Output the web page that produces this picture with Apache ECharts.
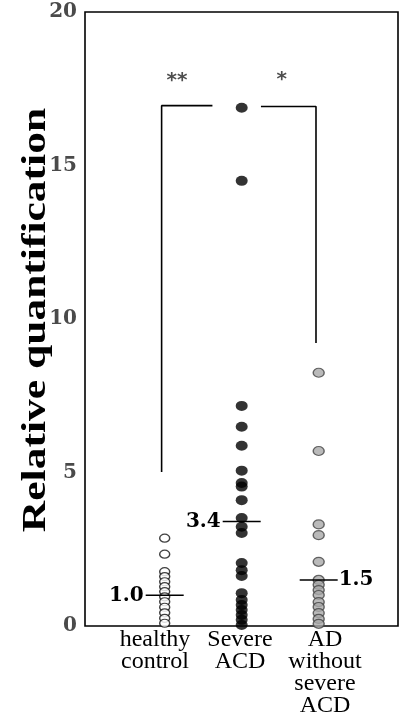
<!DOCTYPE html>
<html>
<head>
<meta charset="utf-8">
<script src="https://cdn.jsdelivr.net/npm/echarts@6/dist/echarts.min.js"></script>
<style>
html,body{margin:0;padding:0;background:#fff;}
#chart{width:400px;height:721px;}
</style>
</head>
<body>
<div id="chart"></div>
<script>
const categories = ['healthy\ncontrol', 'Severe\nACD', 'AD\nwithout\nsevere\nACD'];
const yTicks = [0, 5, 10, 15, 20];
const healthy = [2.86, 2.34, 1.77, 1.61, 1.44, 1.28, 1.12, 0.95, 0.79, 0.61, 0.43, 0.25, 0.09];
const severe = [16.88, 14.5, 7.17, 6.49, 5.87, 5.06, 4.66, 4.54, 4.1, 3.52, 3.23, 3.03, 2.05, 1.82, 1.63, 1.07, 0.85, 0.68, 0.52, 0.36, 0.2, 0.03];
const adNoSevere = [8.25, 5.7, 3.31, 2.96, 2.09, 1.5, 1.34, 1.17, 1.01, 0.78, 0.62, 0.42, 0.23, 0.07];
const means = [1.0, 3.4, 1.5];
const meanLabels = ['1.0', '3.4', '1.5'];
const bracketLeft = [[0.96, 5.02], [0.96, 16.95], [1.62, 16.95]];
const bracketRight = [[2.25, 16.92], [2.965, 16.92], [2.965, 9.22]];
const stars = [[1.16, 17.75, '**'], [2.52, 17.8, '*']];

const groupX = [1, 2, 3];
const meanSide = ['left', 'left', 'right'];

const chart = echarts.init(document.getElementById('chart'), null, {renderer: 'canvas'});

function pts(vals, gi) { return vals.map(v => [groupX[gi], v]); }

const option = {
  backgroundColor: '#fff',
  animation: false,
  grid: [
    {left: 85, right: 2, top: 12, bottom: 95, show: true, borderColor: '#000', borderWidth: 1.6, backgroundColor: 'transparent'},
    {left: 112.5, right: 32.5, top: 12, bottom: 95, show: false}
  ],
  xAxis: [
    {type: 'value', gridIndex: 0, min: -0.035, max: 4.03, show: false},
    {type: 'category', gridIndex: 1, data: categories, boundaryGap: true,
     axisLine: {show: false}, axisTick: {show: false}, splitLine: {show: false},
     axisLabel: {show: true, interval: 0, margin: 3, color: '#000', fontFamily: 'Liberation Serif', fontSize: 24, lineHeight: 22, align: 'center'}}
  ],
  yAxis: [
    {type: 'value', gridIndex: 0, min: yTicks[0], max: yTicks[yTicks.length - 1], interval: 5,
     axisLine: {show: false}, axisTick: {show: false}, splitLine: {show: false},
     axisLabel: {margin: 8, color: '#4a4a4a', fontFamily: 'DejaVu Serif', fontWeight: 'bold', fontSize: 20}},
    {type: 'value', gridIndex: 1, min: 0, max: 20, show: false}
  ],
  graphic: [
    {type: 'text', x: 36, y: 320, rotation: Math.PI / 2, scaleX: 1.28, scaleY: 1,
     style: {text: 'Relative quantification', font: 'bold 34px "Liberation Serif"', fill: '#000', textAlign: 'center', textVerticalAlign: 'middle'}}
  ],
  series: [
    {type: 'line', data: bracketLeft, symbol: 'none', lineStyle: {color: '#000', width: 1.6}, z: 1},
    {type: 'line', data: bracketRight, symbol: 'none', lineStyle: {color: '#000', width: 1.6}, z: 1},
    {type: 'scatter', data: stars, symbolSize: 0,
     label: {show: true, position: 'inside', formatter: p => p.data[2], color: '#222', fontFamily: 'DejaVu Sans', fontWeight: 'bold', fontSize: 20}, z: 3},
    {type: 'scatter', data: pts(healthy, 0), symbol: 'circle', symbolSize: [10, 8],
     itemStyle: {color: '#fff', borderColor: '#111', borderWidth: 1.3}, z: 2},
    {type: 'scatter', data: pts(severe, 1), symbol: 'circle', symbolSize: [12, 10],
     itemStyle: {color: '#000'}, z: 2},
    {type: 'scatter', data: pts(adNoSevere, 2), symbol: 'circle', symbolSize: [11, 9],
     itemStyle: {color: '#a9a9a9', borderColor: '#444', borderWidth: 1.3}, z: 2},
    {type: 'custom', data: means.map((m, i) => [groupX[i], m, i]), z: 4,
     renderItem: function (params, api) {
       const p = api.coord([api.value(0), api.value(1)]);
       const i = api.value(2);
       const left = meanSide[i] === 'left';
       return {type: 'group', children: [
         {type: 'line', shape: {x1: p[0] - 19, y1: p[1], x2: p[0] + 19, y2: p[1]}, style: {stroke: '#000', lineWidth: 1.5}},
         {type: 'text', x: left ? p[0] - 21 : p[0] + 20, y: p[1],
          style: {text: meanLabels[i], font: 'bold 20px "DejaVu Serif"', fill: '#000', textAlign: left ? 'right' : 'left', textVerticalAlign: 'middle'}}
       ]};
     }}
  ]
};
chart.setOption(option);
</script>
</body>
</html>
